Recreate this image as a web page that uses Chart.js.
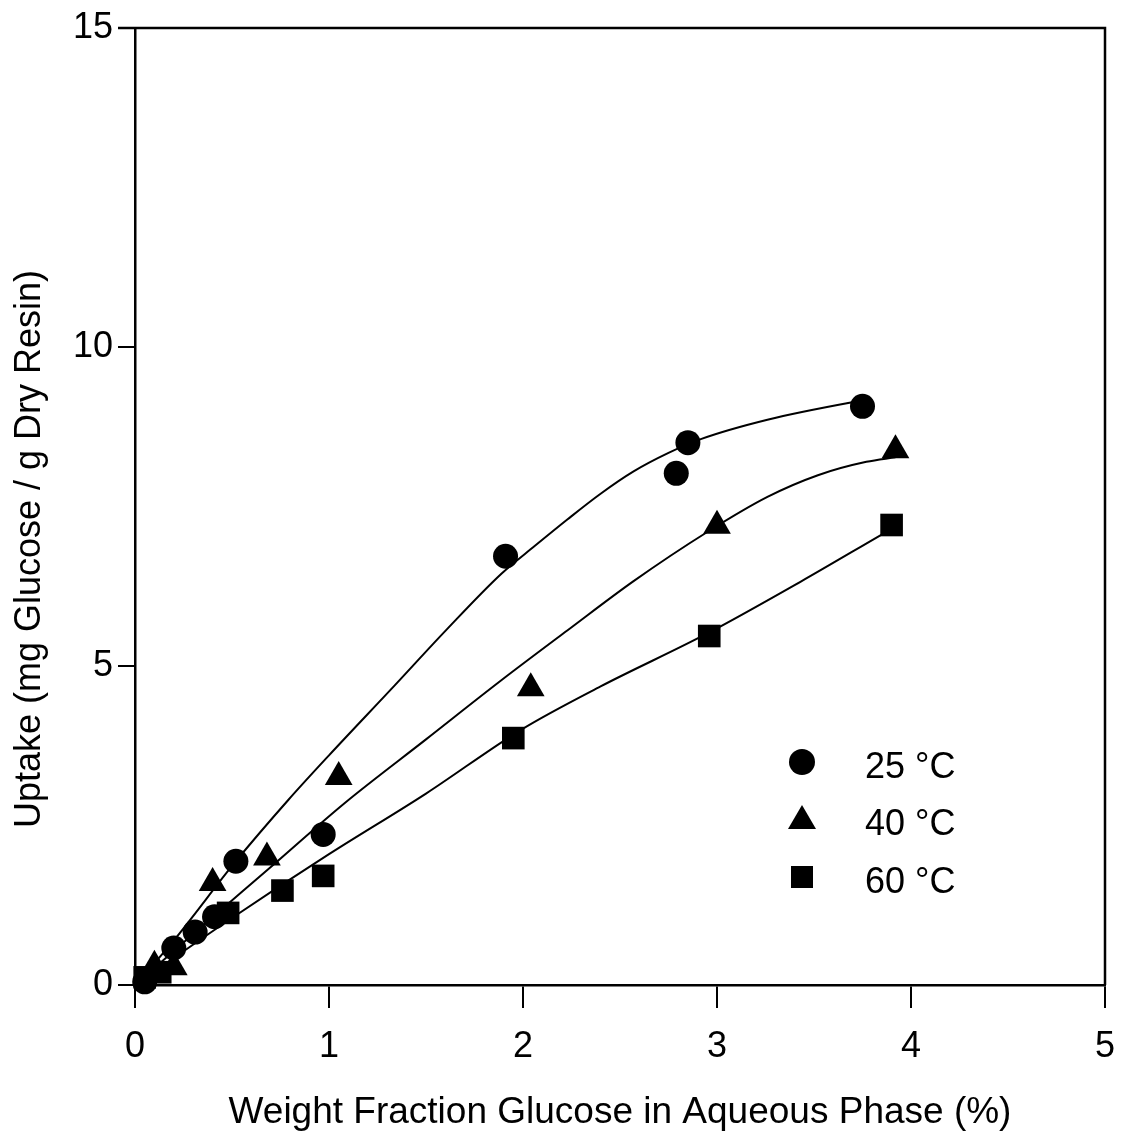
<!DOCTYPE html>
<html>
<head>
<meta charset="utf-8">
<script src="https://cdn.jsdelivr.net/npm/chart.js@4"></script>
<style>
html, body { margin: 0; padding: 0; background: #fff; }
#wrap { width: 1121px; height: 1141px; }
</style>
</head>
<body>
<div id="wrap"><canvas id="grafico" width="1121" height="1141"></canvas></div>
<script>
// ===== dados =====
const nomesSeries = ['25 \u00B0C', '40 \u00B0C', '60 \u00B0C'];
const marcadores = ['circle', 'triangle', 'rect'];
const raios = [12.5, 16, 16];

const x25 = [0.05, 0.20, 0.31, 0.41, 0.52, 0.97, 1.91, 2.79, 2.85, 3.75];
const y25 = [0.05, 0.58, 0.83, 1.07, 1.94, 2.36, 6.72, 8.02, 8.50, 9.07];
const x40 = [0.10, 0.20, 0.40, 0.68, 1.05, 2.04, 3.00, 3.92];
const y40 = [0.30, 0.28, 1.60, 2.00, 3.26, 4.65, 7.20, 8.38];
const x60 = [0.05, 0.13, 0.48, 0.76, 0.97, 1.95, 2.96, 3.90];
const y60 = [0.12, 0.20, 1.13, 1.48, 1.71, 3.87, 5.47, 7.21];

// curvas ajustadas
const cx25 = [0, 0.19, 0.52, 0.79, 1.00, 1.34, 1.60, 1.89, 2.06, 2.23, 2.40, 2.57, 2.75, 2.92, 3.26, 3.69, 3.75];
const cy25 = [0, 0.66, 1.94, 2.90, 3.60, 4.70, 5.55, 6.45, 6.88, 7.30, 7.70, 8.05, 8.34, 8.56, 8.86, 9.13, 9.16];
const cx40 = [0, 0.30, 0.70, 1.08, 1.50, 1.89, 2.23, 2.57, 2.95, 3.26, 3.52, 3.77, 3.92];
const cy40 = [0, 0.80, 1.85, 2.85, 3.85, 4.78, 5.56, 6.33, 7.10, 7.65, 7.99, 8.20, 8.27];
const cx60 = [0, 0.50, 1.00, 1.50, 1.99, 2.40, 2.95, 3.43, 3.86, 3.90];
const cy60 = [0, 1.05, 2.05, 3.00, 4.00, 4.68, 5.51, 6.32, 7.08, 7.15];

const ticksX = [0, 1, 2, 3, 4, 5];
const ticksY = [0, 5, 10, 15];

const tituloX = 'Weight Fraction Glucose in Aqueous Phase (%)';
const tituloY = 'Uptake (mg Glucose / g Dry Resin)';

const fonte = 'Liberation Sans, Arial, sans-serif';

function pares(xs, ys) {
    return xs.map((x, i) => ({ x: x, y: ys[i] }));
}

const pontos = [pares(x25, y25), pares(x40, y40), pares(x60, y60)];
const curvas = [pares(cx25, cy25), pares(cx40, cy40), pares(cx60, cy60)];

let datasets = [];
curvas.forEach((c, i) => {
    datasets.push({
        label: 'ajuste ' + nomesSeries[i],
        data: c,
        showLine: true,
        borderColor: '#000',
        borderWidth: 2,
        pointRadius: 0,
        cubicInterpolationMode: 'monotone',
        fill: false
    });
});
pontos.forEach((p, i) => {
    datasets.push({
        label: nomesSeries[i],
        data: p,
        showLine: false,
        pointStyle: marcadores[i],
        pointRadius: raios[i],
        backgroundColor: '#000',
        borderColor: '#000',
        borderWidth: 0,
        clip: false
    });
});

// moldura superior e direita + titulo do eixo y
const moldura = {
    id: 'moldura',
    afterDatasetsDraw(chart) {
        const a = chart.chartArea;
        const ctx = chart.ctx;
        ctx.save();
        ctx.strokeStyle = '#000';
        ctx.lineWidth = 2.5;
        ctx.beginPath();
        ctx.moveTo(a.left - 17, a.top);
        ctx.lineTo(a.right, a.top);
        ctx.lineTo(a.right, a.bottom);
        ctx.stroke();

        ctx.translate(30, 549);
        ctx.rotate(-Math.PI / 2);
        ctx.fillStyle = '#000';
        ctx.font = '36px ' + fonte;
        ctx.textAlign = 'center';
        ctx.textBaseline = 'middle';
        ctx.fillText(tituloY, 0, 0);
        ctx.restore();
    }
};

// legenda dentro do grafico
const legenda = {
    id: 'legenda',
    afterDraw(chart) {
        const ctx = chart.ctx;
        const xm = 802, xt = 865;
        const ys = [762, 819, 877];
        ctx.save();
        ctx.fillStyle = '#000';
        ctx.font = '36px ' + fonte;
        ctx.textBaseline = 'middle';
        nomesSeries.forEach((nome, i) => {
            const y = ys[i];
            ctx.beginPath();
            if (marcadores[i] === 'circle') {
                ctx.arc(xm, y, 13, 0, Math.PI * 2);
            } else if (marcadores[i] === 'triangle') {
                ctx.moveTo(xm, y - 14);
                ctx.lineTo(xm + 14, y + 10);
                ctx.lineTo(xm - 14, y + 10);
                ctx.closePath();
            } else {
                ctx.rect(xm - 11, y - 11, 22, 22);
            }
            ctx.fill();
            ctx.fillText(nome, xt, y + 6);
        });
        ctx.restore();
    }
};

new Chart(document.getElementById('grafico').getContext('2d'), {
    type: 'scatter',
    data: { datasets: datasets },
    options: {
        responsive: false,
        animation: false,
        layout: { padding: { top: 28, right: 14, left: 0, bottom: 0 } },
        plugins: {
            legend: { display: false },
            tooltip: { enabled: false }
        },
        scales: {
            x: {
                type: 'linear',
                min: 0,
                max: 5,
                afterBuildTicks: s => { s.ticks = ticksX.map(v => ({ value: v })); },
                afterFit: s => { s.height = 156; s.paddingLeft = 0; s.paddingRight = 0; },
                ticks: {
                    color: '#000',
                    font: { family: fonte, size: 36 },
                    padding: 17,
                    maxRotation: 0
                },
                grid: {
                    drawOnChartArea: false,
                    drawTicks: true,
                    tickLength: 23,
                    color: '#000',
                    lineWidth: 2
                },
                border: { display: true, color: '#000', width: 2.5 },
                title: {
                    display: true,
                    text: tituloX,
                    color: '#000',
                    font: { family: fonte, size: 37 },
                    padding: { top: 0, bottom: 6 }
                }
            },
            y: {
                type: 'linear',
                min: 0,
                max: 15,
                afterBuildTicks: s => { s.ticks = ticksY.map(v => ({ value: v })); },
                afterFit: s => { s.width = 135; s.paddingTop = 0; s.paddingBottom = 0; },
                ticks: {
                    color: '#000',
                    font: { family: fonte, size: 36 },
                    padding: 5
                },
                grid: {
                    drawOnChartArea: false,
                    drawTicks: true,
                    tickLength: 17,
                    color: '#000',
                    lineWidth: 2
                },
                border: { display: true, color: '#000', width: 2.5 }
            }
        }
    },
    plugins: [moldura, legenda]
});
</script>
</body>
</html>
